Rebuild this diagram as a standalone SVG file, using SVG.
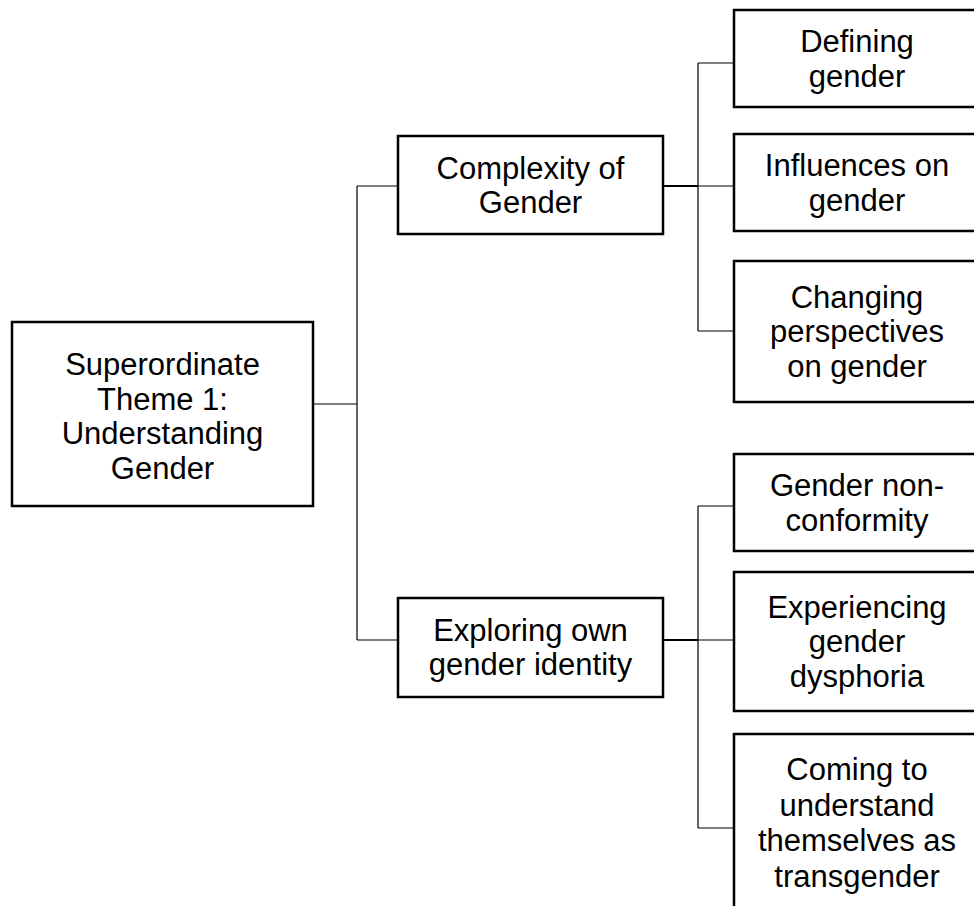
<svg xmlns="http://www.w3.org/2000/svg" width="974" height="906" viewBox="0 0 974 906">
<style>
.box{fill:#fff;stroke:#000;stroke-width:2.5}
.lbl{font-family:"Liberation Sans",Arial,sans-serif;font-size:31px;fill:#000;text-anchor:middle}
.con{fill:none;stroke:#000;stroke-width:1.2}
.con2{fill:none;stroke:#000;stroke-width:2}
</style>
<rect width="974" height="906" fill="#fff"/>
<g id="connectors">
<path class="con" d="M313,404H357M357,186V640M357,186H398M357,640H398"/>
<path class="con2" d="M663,186H698"/>
<path class="con" d="M698,63V331M698,63H734M698,186H734M698,331H734"/>
<path class="con2" d="M663,640H698"/>
<path class="con" d="M698,506V828M698,506H734M698,640H734M698,828H734"/>
</g>
<g id="root">
<rect class="box" x="12" y="322" width="301" height="184"/>
<text class="lbl" x="162.5" y="375"><tspan x="162.5">Superordinate</tspan><tspan x="162.5" dy="34.5">Theme 1:</tspan><tspan x="162.5" dy="34.5">Understanding</tspan><tspan x="162.5" dy="34.5">Gender</tspan></text>
</g>
<g id="complexity">
<rect class="box" x="398" y="136" width="265" height="98"/>
<text class="lbl" x="530.5" y="178.5"><tspan x="530.5">Complexity of</tspan><tspan x="530.5" dy="34.5">Gender</tspan></text>
</g>
<g id="exploring">
<rect class="box" x="398" y="598" width="265" height="99"/>
<text class="lbl" x="530.5" y="640.5"><tspan x="530.5">Exploring own</tspan><tspan x="530.5" dy="34.5">gender identity</tspan></text>
</g>
<g id="defining">
<rect class="box" x="734" y="10" width="246" height="97"/>
<text class="lbl" x="857" y="52"><tspan x="857">Defining</tspan><tspan x="857" dy="34.5">gender</tspan></text>
</g>
<g id="influences">
<rect class="box" x="734" y="134" width="246" height="97"/>
<text class="lbl" x="857" y="176"><tspan x="857">Influences on</tspan><tspan x="857" dy="34.5">gender</tspan></text>
</g>
<g id="changing">
<rect class="box" x="734" y="261" width="246" height="141"/>
<text class="lbl" x="857" y="307.5"><tspan x="857">Changing</tspan><tspan x="857" dy="34.5">perspectives</tspan><tspan x="857" dy="34.5">on gender</tspan></text>
</g>
<g id="nonconformity">
<rect class="box" x="734" y="454" width="246" height="97"/>
<text class="lbl" x="857" y="496"><tspan x="857">Gender non-</tspan><tspan x="857" dy="34.5">conformity</tspan></text>
</g>
<g id="dysphoria">
<rect class="box" x="734" y="572" width="246" height="139"/>
<text class="lbl" x="857" y="617.5"><tspan x="857">Experiencing</tspan><tspan x="857" dy="34.5">gender</tspan><tspan x="857" dy="34.5">dysphoria</tspan></text>
</g>
<g id="transgender">
<rect class="box" x="734" y="734" width="246" height="180"/>
<text class="lbl" x="857" y="780"><tspan x="857">Coming to</tspan><tspan x="857" dy="35.5">understand</tspan><tspan x="857" dy="35.5">themselves as</tspan><tspan x="857" dy="35.5">transgender</tspan></text>
</g>
</svg>
